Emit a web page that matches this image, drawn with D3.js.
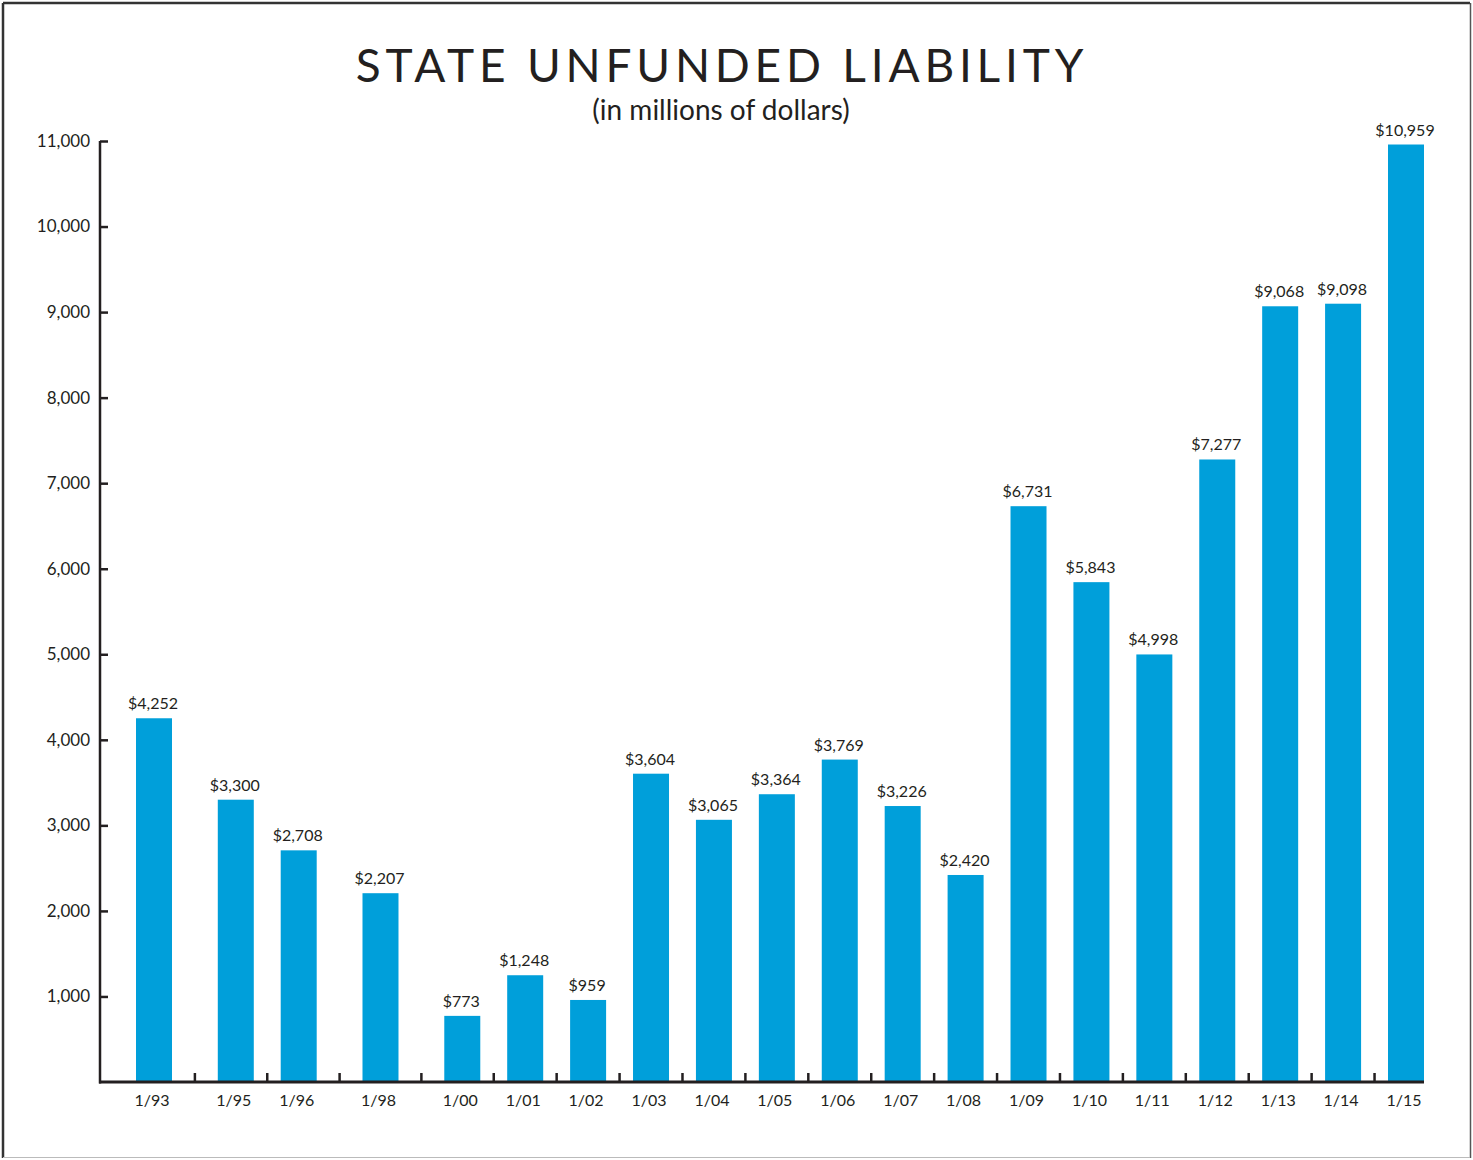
<!DOCTYPE html>
<html>
<head>
<meta charset="utf-8">
<script src="https://cdn.jsdelivr.net/npm/d3@7"></script>
<style>
  body { margin: 0; background: #fff; }
  text { font-family: Lato, 'Open Sans', sans-serif; fill: #231f20; }
</style>
</head>
<body>
<script>
const years = ['1/93', '1/95', '1/96', '1/98', '1/00', '1/01', '1/02', '1/03', '1/04', '1/05',
  '1/06', '1/07', '1/08', '1/09', '1/10', '1/11', '1/12', '1/13', '1/14', '1/15']
const liability = [4252, 3300, 2708, 2207, 773, 1248, 959, 3604, 3065, 3364,
  3769, 3226, 2420, 6731, 5843, 4998, 7277, 9068, 9098, 10959]
const yTicks = [1000, 2000, 3000, 4000, 5000, 6000, 7000, 8000, 9000, 10000, 11000]

const w = 1473
const h = 1160
const margin = { top: 141, right: 49, bottom: 78, left: 100 }
const width = w - margin.left - margin.right
const height = h - margin.top - margin.bottom
const barW = 36

// a skipped year widens the gap by 0.3 of a step
const slot = []
years.forEach((d, i) => {
  if (i === 0) { slot.push(0); return }
  const yr = s => { const n = +s.split('/')[1]; return n < 50 ? 2000 + n : 1900 + n }
  const skipped = yr(d) - yr(years[i - 1]) - 1
  slot.push(slot[i - 1] + 1 + 0.3 * skipped)
})

const svg = d3.select('body').append('svg')
  .attr('width', w)
  .attr('height', h)

// frame
svg.append('line').attr('x1', 3).attr('y1', 3).attr('x2', 1470).attr('y2', 3).attr('stroke', '#333').attr('stroke-width', 2.5)
svg.append('line').attr('x1', 3).attr('y1', 3).attr('x2', 3).attr('y2', 1158).attr('stroke', '#333').attr('stroke-width', 2.5)
svg.append('line').attr('x1', 1470.5).attr('y1', 3).attr('x2', 1470.5).attr('y2', 1158).attr('stroke', '#555').attr('stroke-width', 1.5)
svg.append('line').attr('x1', 3).attr('y1', 1157.5).attr('x2', 1470).attr('y2', 1157.5).attr('stroke', '#bbb').attr('stroke-width', 1)

svg.append('text')
  .attr('x', 722)
  .attr('y', 82)
  .attr('text-anchor', 'middle')
  .style('font-size', '46px')
  .style('letter-spacing', '4.8px')
  .text('STATE UNFUNDED LIABILITY')

svg.append('text')
  .attr('x', 721)
  .attr('y', 120)
  .attr('text-anchor', 'middle')
  .style('font-size', '28px')
  .text('(in millions of dollars)')

const g = svg.append('g').attr('transform', 'translate(' + margin.left + ',' + margin.top + ')')

const x = d3.scaleLinear().domain([0, slot[slot.length - 1]]).range([54, 1306])
const y = d3.scaleLinear().domain([0, 11000]).range([height, 0])

g.selectAll('rect.bar')
  .data(liability)
  .enter().append('rect')
  .attr('class', 'bar')
  .attr('x', (d, i) => x(slot[i]) - barW / 2)
  .attr('y', d => y(d))
  .attr('width', barW)
  .attr('height', d => height - y(d))
  .attr('fill', '#009fda')

g.selectAll('text.val')
  .data(liability)
  .enter().append('text')
  .attr('class', 'val')
  .attr('x', (d, i) => x(slot[i]) - 1)
  .attr('y', d => y(d) - 9)
  .attr('text-anchor', 'middle')
  .style('font-size', '16px')
  .text(d => '$' + d3.format(',')(d))

// y axis
const yAxis = g.append('g')
  .call(d3.axisRight(y).tickValues(yTicks).tickSize(8).tickFormat(d3.format(',')))
yAxis.select('.domain').remove()
yAxis.selectAll('.tick line').attr('stroke', '#231f20').attr('stroke-width', 2.5)
yAxis.selectAll('.tick text')
  .attr('x', -10)
  .attr('text-anchor', 'end')
  .style('font-size', '17px')
  .style('font-family', 'Lato, sans-serif')
  .attr('fill', '#231f20')

g.append('line')
  .attr('x1', 0).attr('x2', 0)
  .attr('y1', 0).attr('y2', height + 1.5)
  .attr('stroke', '#231f20').attr('stroke-width', 2.5)

// x axis: ticks sit midway between neighbouring bars
const mids = slot.slice(1).map((s, i) => (s + slot[i]) / 2)
g.selectAll('line.xtick')
  .data(mids)
  .enter().append('line')
  .attr('class', 'xtick')
  .attr('x1', d => x(d)).attr('x2', d => x(d))
  .attr('y1', height - 9).attr('y2', height)
  .attr('stroke', '#231f20').attr('stroke-width', 2.5)

g.append('line')
  .attr('x1', -1).attr('x2', width)
  .attr('y1', height).attr('y2', height)
  .attr('stroke', '#231f20').attr('stroke-width', 3)

g.selectAll('text.xlab')
  .data(years)
  .enter().append('text')
  .attr('class', 'xlab')
  .attr('x', (d, i) => x(slot[i]) - 2)
  .attr('y', height + 24)
  .attr('text-anchor', 'middle')
  .style('font-size', '16px')
  .text(d => d)
</script>
</body>
</html>
